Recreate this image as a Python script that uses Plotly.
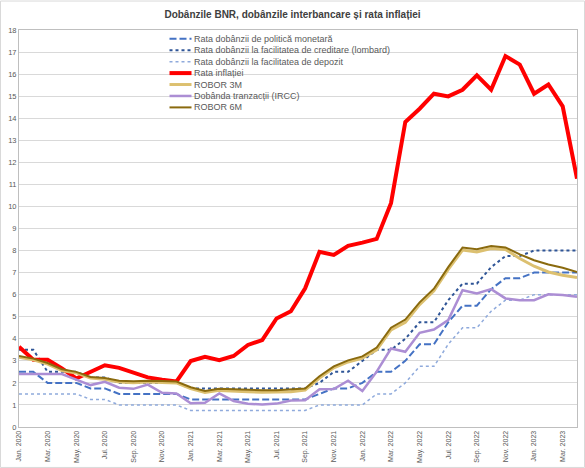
import plotly.graph_objects as go

# ---------------- data ----------------
months = [
    "Jan. 2020", "Feb. 2020", "Mar. 2020", "Apr. 2020", "May. 2020", "Jun. 2020",
    "Jul. 2020", "Aug. 2020", "Sep. 2020", "Oct. 2020", "Nov. 2020", "Dec. 2020",
    "Jan. 2021", "Feb. 2021", "Mar. 2021", "Apr. 2021", "May. 2021", "Jun. 2021",
    "Jul. 2021", "Aug. 2021", "Sep. 2021", "Oct. 2021", "Nov. 2021", "Dec. 2021",
    "Jan. 2022", "Feb. 2022", "Mar. 2022", "Apr. 2022", "May. 2022", "Jun. 2022",
    "Jul. 2022", "Aug. 2022", "Sep. 2022", "Oct. 2022", "Nov. 2022", "Dec. 2022",
    "Jan. 2023", "Feb. 2023", "Mar. 2023", "Apr. 2023",
]

tick_labels = [
    "Jan. 2020", "Mar. 2020", "May. 2020", "Jul. 2020", "Sep. 2020", "Nov. 2020",
    "Jan. 2021", "Mar. 2021", "May. 2021", "Jul. 2021", "Sep. 2021", "Nov. 2021",
    "Jan. 2022", "Mar. 2022", "May. 2022", "Jul. 2022", "Sep. 2022", "Nov. 2022",
    "Jan. 2023", "Mar. 2023",
]

politica = [2.5, 2.5, 2.0, 2.0, 2.0, 1.75, 1.75, 1.5, 1.5, 1.5, 1.5, 1.5,
            1.25, 1.25, 1.25, 1.25, 1.25, 1.25, 1.25, 1.25, 1.25, 1.5, 1.75, 1.75,
            2.0, 2.5, 2.5, 3.0, 3.75, 3.75, 4.75, 5.5, 5.5, 6.25, 6.75, 6.75,
            7.0, 7.0, 7.0, 7.0]

lombard = [3.5, 3.5, 2.5, 2.5, 2.5, 2.25, 2.25, 2.0, 2.0, 2.0, 2.0, 2.0,
           1.75, 1.75, 1.75, 1.75, 1.75, 1.75, 1.75, 1.75, 1.75, 2.0, 2.5, 2.5,
           3.0, 3.5, 3.5, 4.0, 4.75, 4.75, 5.75, 6.5, 6.5, 7.25, 7.75, 7.75,
           8.0, 8.0, 8.0, 8.0]

depozit = [1.5, 1.5, 1.5, 1.5, 1.5, 1.25, 1.25, 1.0, 1.0, 1.0, 1.0, 1.0,
           0.75, 0.75, 0.75, 0.75, 0.75, 0.75, 0.75, 0.75, 0.75, 1.0, 1.0, 1.0,
           1.0, 1.5, 1.5, 2.0, 2.75, 2.75, 3.75, 4.5, 4.5, 5.25, 5.75, 5.75,
           6.0, 6.0, 6.0, 6.0]

inflatie = [3.64, 3.05, 3.05, 2.66, 2.2, 2.5, 2.8, 2.68, 2.45, 2.25, 2.14, 2.06,
            2.99, 3.18, 3.03, 3.22, 3.72, 3.94, 4.92, 5.25, 6.29, 7.94, 7.8, 8.21,
            8.36, 8.53, 10.15, 13.83, 14.43, 15.11, 14.99, 15.29, 15.94, 15.29, 16.82, 16.43,
            15.11, 15.53, 14.54, 11.26]

robor3m = [3.16, 3.05, 2.85, 2.56, 2.45, 2.22, 2.16, 2.04, 2.01, 2.04, 2.02, 2.0,
           1.74, 1.56, 1.66, 1.62, 1.6, 1.58, 1.58, 1.6, 1.67, 2.22, 2.68, 2.95,
           3.12, 3.5, 4.4, 4.75, 5.55, 6.18, 7.15, 8.02, 7.94, 8.09, 8.05, 7.64,
           7.29, 7.03, 6.88, 6.78]

ircc = [2.4, 2.4, 2.4, 2.4, 2.15, 1.9, 2.05, 1.78, 1.73, 1.92, 1.55, 1.52,
        1.08, 1.1, 1.52, 1.18, 1.05, 1.02, 1.06, 1.2, 1.21, 1.71, 1.72, 2.1,
        1.63, 2.51, 3.56, 3.41, 4.27, 4.42, 4.85, 6.2, 6.05, 6.25, 5.83, 5.75,
        5.75, 6.02, 5.98, 5.9]

robor6m = [3.22, 3.1, 2.9, 2.62, 2.5, 2.27, 2.22, 2.1, 2.07, 2.1, 2.08, 2.06,
           1.8, 1.63, 1.73, 1.7, 1.68, 1.67, 1.67, 1.7, 1.75, 2.3, 2.75, 3.02,
           3.2, 3.6, 4.5, 4.87, 5.65, 6.27, 7.25, 8.14, 8.06, 8.21, 8.14, 7.83,
           7.56, 7.37, 7.22, 7.03]

series_names = [
    "Rata dobânzii de politică monetară",
    "Rata dobânzii la facilitatea de creditare (lombard)",
    "Rata dobânzii la facilitatea de depozit",
    "Rata inflației",
    "ROBOR 3M",
    "Dobânda tranzacții (IRCC)",
    "ROBOR 6M",
]
series_values = [politica, lombard, depozit, inflatie, robor3m, ircc, robor6m]

# ---------------- styles ----------------
styles = [
    dict(color="#4472C4", width=2, dash="7px,3px"),
    dict(color="#2F5597", width=2, dash="dot"),
    dict(color="#8FAADC", width=1.5, dash="dot"),
    dict(color="#FF0000", width=4, dash="solid"),
    dict(color="#DCC070", width=3, dash="solid"),
    dict(color="#AC8ED4", width=2.5, dash="solid"),
    dict(color="#8A6A0E", width=2, dash="solid"),
]

FONT = "Liberation Sans Narrow, Liberation Sans, Arial, sans-serif"
W, H = 585, 468
ML, MR, MT, MB = 19, 8, 29.5, 41
PW, PH = W - ML - MR, H - MT - MB

fig = go.Figure()
for name, vals, st in zip(series_names, series_values, styles):
    fig.add_trace(go.Scatter(
        x=months, y=vals, mode="lines", name=name, showlegend=False,
        line=dict(color=st["color"], width=st["width"], dash=st["dash"]),
        hoverinfo="skip",
    ))

# ---------------- manual compact legend ----------------
def px_x(px):
    return (px - ML) / PW

def px_y(py):
    return (H - MB - py) / PH

leg_x0, leg_x1, leg_tx = 169.5, 191.5, 191.5
leg_y0, leg_dy = 38.3, 11.45
shapes = []
annotations = []
for k, (name, st) in enumerate(zip(series_names, styles)):
    yy = leg_y0 + k * leg_dy
    shapes.append(dict(
        type="line", xref="paper", yref="paper",
        x0=px_x(leg_x0), x1=px_x(leg_x1), y0=px_y(yy), y1=px_y(yy),
        line=dict(color=st["color"], width=st["width"], dash=st["dash"]),
    ))
    annotations.append(dict(
        xref="paper", yref="paper", x=px_x(leg_tx), y=px_y(yy),
        xanchor="left", yanchor="middle", text=name, showarrow=False,
        font=dict(family=FONT, size=9, color="#595959"),
    ))

# outer chart border
shapes.append(dict(
    type="rect", xref="paper", yref="paper",
    x0=px_x(0.5), x1=px_x(W - 0.5), y0=px_y(H - 0.5), y1=px_y(0.5),
    line=dict(color="#D9D9D9", width=1), layer="below",
))

fig.update_layout(
    width=W, height=H,
    margin=dict(l=ML, r=MR, t=MT, b=MB, autoexpand=False),
    paper_bgcolor="white", plot_bgcolor="white",
    font=dict(family=FONT, color="#595959"),
    title=dict(
        text="<b>Dobânzile BNR, dobânzile interbancare și rata inflației</b>",
        x=0.5, xref="container", xanchor="center",
        y=1 - 14.5 / H, yref="container", yanchor="middle",
        font=dict(family=FONT, size=10, color="#404040"),
    ),
    shapes=shapes,
    annotations=annotations,
    showlegend=False,
)

fig.update_xaxes(
    type="category", range=[0, len(months) - 1], automargin=False,
    tickmode="array", tickvals=tick_labels, ticktext=tick_labels,
    tickangle=-90, tickfont=dict(family=FONT, size=7, color="#595959"),
    showgrid=False, showline=True, linecolor="#BFBFBF", linewidth=1, mirror=True,
    ticks="", zeroline=False,
)
fig.update_yaxes(
    range=[0, 18], dtick=1, tick0=0, automargin=False,
    tickfont=dict(family=FONT, size=7.5, color="#595959"),
    showgrid=True, gridcolor="#D9D9D9", gridwidth=1,
    showline=True, linecolor="#BFBFBF", linewidth=1, mirror=True,
    ticks="", zeroline=False,
)

fig.write_html(
    "out.html",
    config={"displayModeBar": False, "staticPlot": True},
    post_script="document.body.style.margin='0';document.body.style.padding='0';",
)
